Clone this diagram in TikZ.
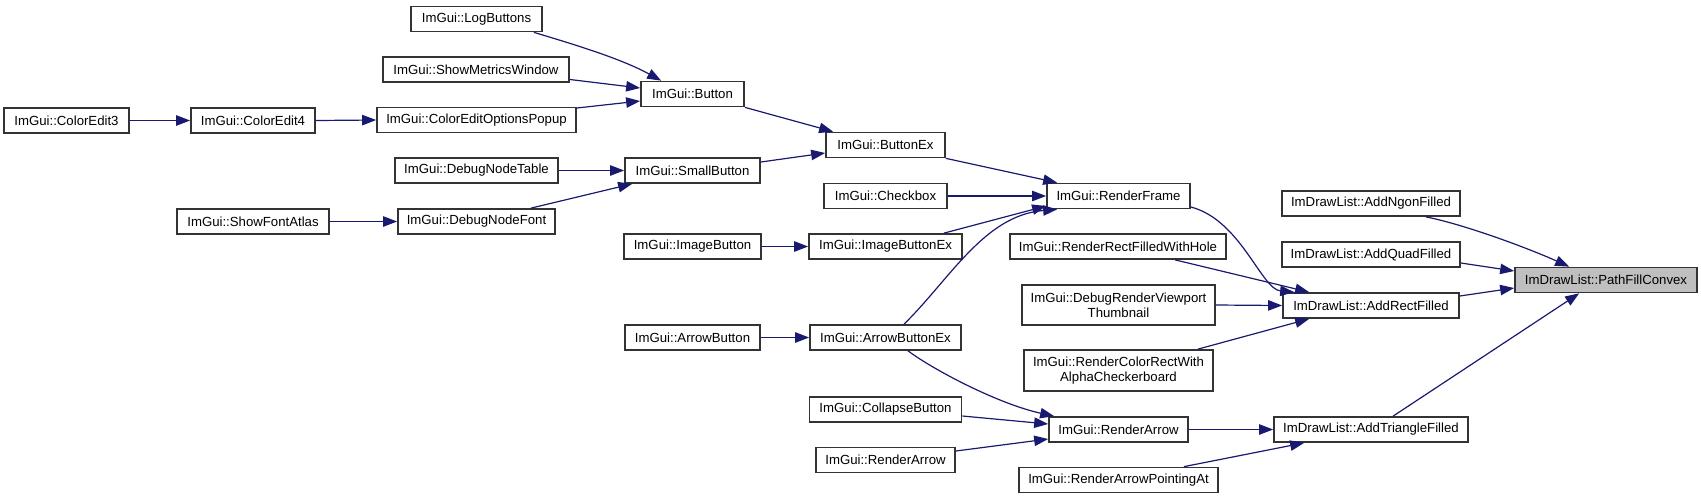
\documentclass[tikz,border=0pt]{standalone}
\usepackage{fontspec}
\setmainfont{Liberation Sans}
\usepackage{tikz}
\usetikzlibrary{arrows.meta,calc}

\definecolor{edgeblue}{HTML}{191970}
\definecolor{focusgray}{HTML}{BFBFBF}

\tikzset{
	fnbox/.style={draw=black!80, line width=0.85pt, fill=white, inner sep=0pt,
		minimum height=12.5pt, minimum width=0.5pt*#1, align=center,
		font=\fontsize{6.6}{7.5}\selectfont},
	calls/.style={draw=edgeblue, line width=0.6pt, -{Triangle[length=7pt,width=5.2pt]}},
}

\begin{document}
\begin{tikzpicture}[x=0.5pt,y=-0.5pt]
				\useasboundingbox (0,0) rectangle (1701,499);

				% Chiamanti a sinistra
				\node[fnbox=125] (ce3) at (66.5,120.5) {ImGui::ColorEdit3};
				\node[fnbox=124] (ce4) at (253,120.5) {ImGui::ColorEdit4};
				\node[fnbox=152] (fontatlas) at (253,221.5) {ImGui::ShowFontAtlas};

				\node[fnbox=131] (logbtn) at (476.5,19) {ImGui::LogButtons};
				\node[fnbox=186] (metrics) at (476,69.5) {ImGui::ShowMetricsWindow};
				\node[fnbox=199] (popup) at (476.5,120) {ImGui::ColorEditOptionsPopup};
				\node[fnbox=163] (nodetable) at (476.5,170.5) {ImGui::DebugNodeTable};
				\node[fnbox=157] (nodefont) at (476.5,221.5) {ImGui::DebugNodeFont};

				\node[fnbox=103] (button) at (692.5,94) {ImGui::Button};
				\node[fnbox=135] (smallbtn) at (692.5,170.5) {ImGui::SmallButton};
				\node[fnbox=137] (imagebtn) at (692.5,246.5) {ImGui::ImageButton};
				\node[fnbox=135] (arrowbtn) at (692.5,337.5) {ImGui::ArrowButton};

				\node[fnbox=119] (buttonex) at (885.5,145) {ImGui::ButtonEx};
				\node[fnbox=123] (checkbox) at (885.5,196) {ImGui::Checkbox};
				\node[fnbox=153] (imagebtnex) at (885.5,246.5) {ImGui::ImageButtonEx};
				\node[fnbox=151] (arrowbtnex) at (885.5,337.5) {ImGui::ArrowButtonEx};
				\node[fnbox=152] (collapse) at (885.5,409.5) {ImGui::CollapseButton};
				\node[fnbox=139] (arrowleft) at (885.5,460) {ImGui::RenderArrow};

				% Colonna Render*
				\node[fnbox=143] (rframe) at (1118.5,196) {ImGui::RenderFrame};
				\node[fnbox=216] (rrecthole) at (1118,246.5) {ImGui::RenderRectFilledWithHole};
				\node[fnbox=193, minimum height=20pt] (viewport) at (1118.5,305) {ImGui::DebugRenderViewport\\Thumbnail};
				\node[fnbox=189, minimum height=20.5pt] (checker) at (1118.5,370.5) {ImGui::RenderColorRectWith\\AlphaCheckerboard};
				\node[fnbox=139] (rarrow) at (1118.5,429.5) {ImGui::RenderArrow};
				\node[fnbox=199] (pointing) at (1118.5,480) {ImGui::RenderArrowPointingAt};

				% ImDrawList
				\node[fnbox=178] (ngon) at (1371,203.5) {ImDrawList::AddNgonFilled};
				\node[fnbox=178] (quad) at (1371,254.5) {ImDrawList::AddQuadFilled};
				\node[fnbox=176] (rectf) at (1371,305.5) {ImDrawList::AddRectFilled};
				\node[fnbox=194] (trif) at (1371,429.5) {ImDrawList::AddTriangleFilled};
				\node[fnbox=182, fill=focusgray] (pathfill) at (1606,280) {ImDrawList::PathFillConvex};

				% Chiamate
				\draw[calls] (ce3.east) -- (ce4.west);
				\draw[calls] (ce4.east) -- (popup.west);
				\draw[calls] (fontatlas.east) -- (nodefont.west);

				\draw[calls] ($(logbtn.south east)+(-9,0)$) .. controls +(40,12) and +(-40,-22) .. ($(button.north west)+(21,0)$);
				\draw[calls] ($(metrics.east)+(0,10)$) -- ($(button.west)+(0,-6)$);
				\draw[calls] ($(popup.east)+(0,-12)$) -- ($(button.west)+(0,7)$);
				\draw[calls] (nodetable.east) -- (smallbtn.west);
				\draw[calls] ($(nodefont.north east)+(-25,0)$) -- ($(smallbtn.south west)+(8,0)$);
				\draw[calls] (imagebtn.east) -- (imagebtnex.west);
				\draw[calls] (arrowbtn.east) -- (arrowbtnex.west);

				\draw[calls] (button.south east) -- ($(buttonex.north west)+(8,0)$);
				\draw[calls] ($(smallbtn.east)+(0,-8.5)$) -- ($(buttonex.west)+(0,8)$);

				\draw[calls] (buttonex.south east) -- ($(rframe.north west)+(11,0)$);
				\draw[calls] (checkbox.east) -- (rframe.west);
				\draw[calls] ($(imagebtnex.north east)+(-19,0)$) -- ($(rframe.west)+(0,10)$);
				\draw[calls] ($(arrowbtnex.north)+(18.5,0)$) .. controls +(46,-45) and +(-73,6) .. ($(rframe.south west)+(11,0)$);
				\draw[calls] ($(arrowbtnex.south)+(22.5,0)$) .. controls +(27,20) and +(-55,-12) .. ($(rarrow.north west)+(6,0)$);
				\draw[calls] ($(collapse.east)+(0,6.5)$) -- ($(rarrow.west)+(0,-5.5)$);
				\draw[calls] ($(arrowleft.east)+(0,-9)$) -- ($(rarrow.west)+(0,9.5)$);

				\draw[calls] ($(rframe.east)+(0,11)$) .. controls +(50,13) and +(-33,-3) .. ($(rectf.north west)+(12,0)$);
				\draw[calls] ($(rrecthole.south)+(57,0)$) -- ($(rectf.north west)+(27,0)$);
				\draw[calls] (viewport.east) -- (rectf.west);
				\draw[calls] ($(checker.north east)+(-16,0)$) -- ($(rectf.south west)+(27,0)$);
				\draw[calls] (rarrow.east) -- (trif.west);
				\draw[calls] ($(pointing.north east)+(-35,0)$) -- ($(trif.south west)+(31,0)$);

				\draw[calls] ($(ngon.south east)+(-35,0)$) .. controls +(40,8) and +(-40,-18) .. ($(pathfill.north west)+(55,0)$);
				\draw[calls] ($(quad.east)+(0,8.5)$) -- ($(pathfill.west)+(0,-9)$);
				\draw[calls] ($(rectf.east)+(0,-9.5)$) -- ($(pathfill.west)+(0,8)$);
				\draw[calls] ($(trif.north)+(22,0)$) -- ($(pathfill.south west)+(65,0)$);
			\end{tikzpicture}
\end{document}
